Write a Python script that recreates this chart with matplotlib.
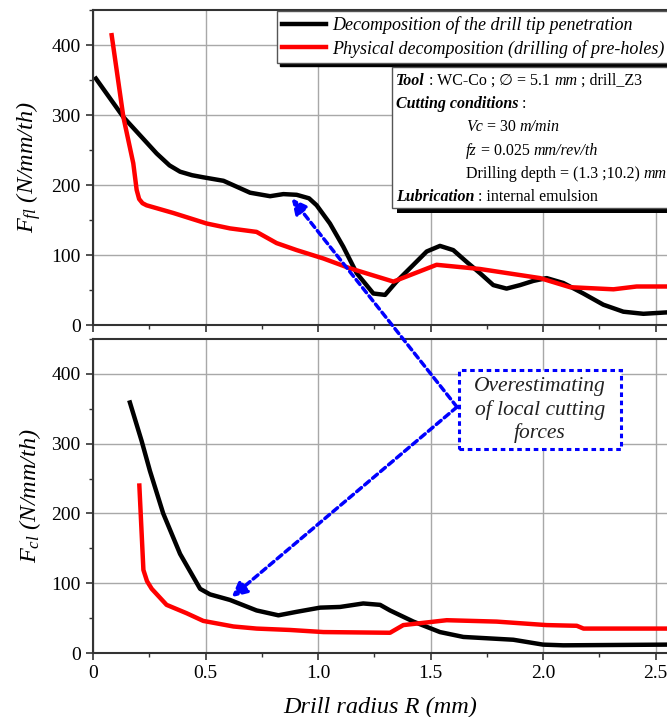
import matplotlib
matplotlib.use("Agg")
import matplotlib.pyplot as plt
from matplotlib.patches import Rectangle
from matplotlib.ticker import MultipleLocator, FixedFormatter, FixedLocator
from matplotlib.text import Annotation

plt.rcParams['font.family'] = ['Liberation Serif', 'DejaVu Sans']
plt.rcParams['mathtext.fontset'] = 'custom'
plt.rcParams['mathtext.rm'] = 'Liberation Serif'
plt.rcParams['mathtext.it'] = 'Liberation Serif:italic'

# ---- data ----
# upper panel: feed force F_fl
r_fl_tip = [0.013, 0.135, 0.283, 0.34, 0.387, 0.44, 0.49, 0.58, 0.698, 0.787, 0.846, 0.905, 0.96,
            0.994, 1.053, 1.112, 1.172, 1.246, 1.298, 1.349, 1.424, 1.483, 1.542, 1.601, 1.661,
            1.72, 1.779, 1.838, 1.898, 1.957, 2.016, 2.09, 2.179, 2.268, 2.357, 2.446, 2.55]
f_fl_tip = [352, 297, 245, 228, 219, 214, 211, 206, 189, 184, 187, 186, 181,
            171, 145, 112, 74, 45, 43, 62, 86, 105, 113, 107, 90,
            74, 57, 52, 57, 63, 67, 60, 45, 29, 19, 16, 18]

r_fl_phys = [0.083, 0.135, 0.179, 0.194, 0.205, 0.22, 0.238, 0.357, 0.505, 0.609, 0.727, 0.816,
             0.905, 1.024, 1.142, 1.335, 1.527, 1.72, 1.987, 2.12, 2.313, 2.416, 2.55]
f_fl_phys = [414, 297, 231, 193, 180, 174, 171, 160, 145, 138, 133, 117,
             107, 95, 81, 62, 86, 80, 67, 54, 51, 55, 55]

# lower panel: cutting force F_cl
r_cl_tip = [0.164, 0.216, 0.253, 0.312, 0.387, 0.476, 0.52, 0.609, 0.727, 0.824, 0.905, 1.009,
            1.098, 1.201, 1.276, 1.32, 1.424, 1.542, 1.646, 1.868, 2.0, 2.09, 2.55]
f_cl_tip = [359, 304, 261, 200, 142, 92, 84, 76, 61, 54, 59, 65,
            66, 71, 69, 61, 45, 30, 23, 19, 12, 11, 12]

r_cl_phys = [0.206, 0.224, 0.24, 0.261, 0.327, 0.416, 0.49, 0.624, 0.727, 0.876, 1.024, 1.32,
             1.379, 1.572, 1.794, 2.016, 2.15, 2.18, 2.55]
f_cl_phys = [240, 119, 103, 92, 69, 57, 46, 38, 35, 33, 30, 29,
             40, 47, 45, 40, 39, 35, 35]

x_ticks = [0, 0.5, 1.0, 1.5, 2.0, 2.5]
x_labels = ['0', '0.5', '1.0', '1.5', '2.0', '2.5']
legend_labels = ['Decomposition of the drill tip penetration',
                 'Physical decomposition (drilling of pre-holes)']

W, H = 667, 717
fig = plt.figure(figsize=(W / 100, H / 100), dpi=100)

def fx(px):
    return px / W

def fy(py):
    return 1 - py / H

left = fx(93)
width = fx(667) - left
ax1 = fig.add_axes([left, fy(325), width, fy(10) - fy(325)])
ax2 = fig.add_axes([left, fy(653), width, fy(339) - fy(653)])

spine_c = '#333333'
for ax in (ax1, ax2):
    ax.set_xlim(0, 2.551)
    ax.set_ylim(0, 450)
    ax.xaxis.set_major_locator(FixedLocator(x_ticks))
    ax.xaxis.set_major_formatter(FixedFormatter(x_labels))
    ax.xaxis.set_minor_locator(MultipleLocator(0.25))
    ax.yaxis.set_major_locator(MultipleLocator(100))
    ax.yaxis.set_minor_locator(MultipleLocator(50))
    ax.grid(True, which='major', color='#a8a8a8', lw=1.0)
    ax.set_axisbelow(True)
    ax.spines['right'].set_visible(False)
    for s in ('left', 'bottom', 'top'):
        ax.spines[s].set_color(spine_c)
        ax.spines[s].set_linewidth(1.5)
    ax.tick_params(which='major', direction='out', length=5, width=1.2, color=spine_c,
                   labelsize=14, pad=4)
    ax.tick_params(which='minor', direction='out', length=3, width=1.0, color=spine_c)
    ax.tick_params(right=False, top=False, which='both')

ax1.tick_params(labelbottom=False)

l1, = ax1.plot(r_fl_tip, f_fl_tip, color='black', lw=3.2, solid_joinstyle='round')
l2, = ax1.plot(r_fl_phys, f_fl_phys, color='#ff0000', lw=3.2, solid_joinstyle='round')
ax2.plot(r_cl_tip, f_cl_tip, color='black', lw=3.2, solid_joinstyle='round')
ax2.plot(r_cl_phys, f_cl_phys, color='#ff0000', lw=3.2, solid_joinstyle='round')

ax1.set_ylabel(r'$F_{fl}$ (N/mm/th)', fontsize=17.5, style='italic', labelpad=6)
ax2.set_ylabel(r'$F_{cl}$ (N/mm/th)', fontsize=17.5, style='italic', labelpad=6)
ax2.set_xlabel('Drill radius R (mm)', fontsize=17.5, style='italic', labelpad=10)

# legend
leg = ax1.legend([l1, l2], legend_labels, loc='upper left',
                 bbox_to_anchor=(fx(277), fy(11)), bbox_transform=fig.transFigure,
                 prop={'family': 'Liberation Serif', 'style': 'italic', 'size': 13},
                 handlelength=2.4, handletextpad=0.35, labelspacing=0.3,
                 borderpad=0.3, borderaxespad=0, fancybox=False,
                 shadow={'color': 'black', 'alpha': 1}, framealpha=1)
leg.get_frame().set_edgecolor('#555555')
leg.get_frame().set_linewidth(1.0)

# info box with shadow
fig.add_artist(Rectangle((fx(397), fy(213)), fx(300), fy(67) - fy(208), transform=fig.transFigure,
                         facecolor='black', edgecolor='none', zorder=5))
fig.add_artist(Rectangle((fx(392), fy(208)), fx(300), fy(67) - fy(208), transform=fig.transFigure,
                         facecolor='white', edgecolor='#555555', lw=1.0, zorder=6))

def rich_line(x, y, pieces, size=11.5):
    prev = None
    for txt, style, weight in pieces:
        kw = dict(fontsize=size, style=style, weight=weight, zorder=7,
                  family=['Liberation Serif', 'DejaVu Sans'])
        if prev is None:
            prev = fig.text(x, y, txt, va='baseline', ha='left', **kw)
        else:
            prev = fig.add_artist(Annotation(txt, xy=(1, 0), xycoords=prev, va='bottom', ha='left', **kw))

rich_line(fx(396), fy(85), [('Tool', 'italic', 'bold'), (' : WC-Co ; ', 'normal', 'normal'),
                            ('\u2205', 'normal', 'normal'), (' = 5.1 ', 'normal', 'normal'),
                            ('mm', 'italic', 'normal'), (' ; drill_Z3', 'normal', 'normal')])
rich_line(fx(396), fy(108), [('Cutting conditions', 'italic', 'bold'), (' :', 'normal', 'normal')])
rich_line(fx(466), fy(131), [('Vc', 'italic', 'normal'), (' = 30 ', 'normal', 'normal'),
                             ('m/min', 'italic', 'normal')])
rich_line(fx(466), fy(155), [('fz', 'italic', 'normal'), (' = 0.025 ', 'normal', 'normal'),
                             ('mm/rev/th', 'italic', 'normal')])
rich_line(fx(466), fy(178), [('Drilling depth = (1.3 ;10.2) ', 'normal', 'normal'),
                             ('mm', 'italic', 'normal')])
rich_line(fx(396), fy(201), [('Lubrication', 'italic', 'bold'), (' : internal emulsion', 'normal', 'normal')])

# arrows from the annotation box
start = (fx(457), fy(407))
for ax, tip in ((ax1, (0.883, 181)), (ax2, (0.616, 80))):
    fig.add_artist(Annotation('', xy=tip, xycoords=ax.transData, xytext=start,
                              textcoords='figure fraction', zorder=8,
                              arrowprops=dict(arrowstyle='-|>,head_length=0.9,head_width=0.45',
                                              color='#0000ff', lw=2.5, ls=(0, (1.8, 1.2)),
                                              shrinkA=0, shrinkB=0)))

fig.add_artist(Rectangle((fx(459), fy(449)), fx(621) - fx(459), fy(370) - fy(449),
                         transform=fig.transFigure, facecolor='white', edgecolor='#0000ff',
                         lw=2.2, ls=(0, (1.5, 1.2)), zorder=9))
fig.text(fx(540), fy(410), 'Overestimating\nof local cutting\nforces', ha='center', va='center',
         fontsize=15.5, style='italic', linespacing=1.25, color='#222222', zorder=10)

fig.savefig('out.png', dpi=100)
